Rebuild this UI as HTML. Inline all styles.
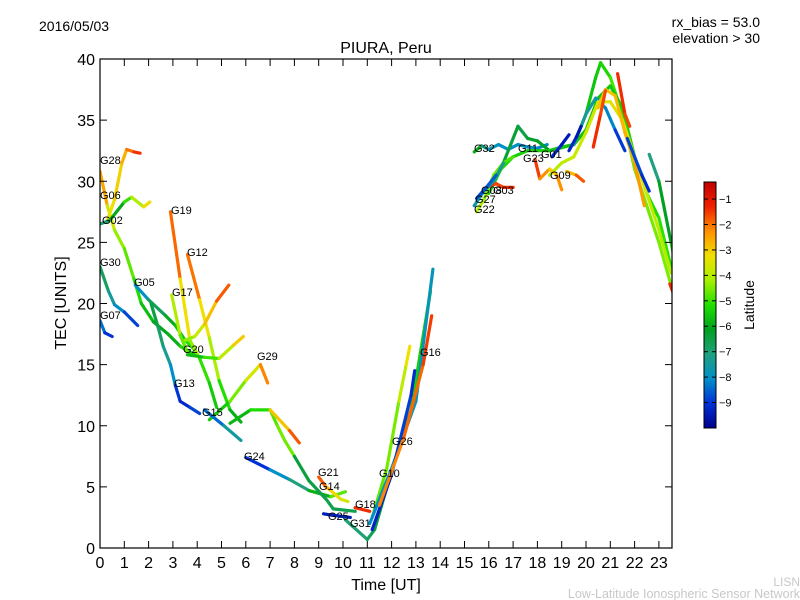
<!DOCTYPE html>
<html><head><meta charset="utf-8"><style>
body{margin:0;background:#fff}
svg{display:block;font-family:"Liberation Sans","DejaVu Sans",sans-serif}
</style></head><body>
<svg id="c" width="800" height="600">
<defs><linearGradient id="cb" x1="0" y1="1" x2="0" y2="0">
<stop offset="0" stop-color="#00008c"/><stop offset="0.1" stop-color="#0030d8"/><stop offset="0.2" stop-color="#0090c8"/><stop offset="0.3" stop-color="#20a080"/><stop offset="0.4" stop-color="#00a020"/><stop offset="0.5" stop-color="#20e000"/><stop offset="0.6" stop-color="#a8f000"/><stop offset="0.7" stop-color="#f0e000"/><stop offset="0.8" stop-color="#ff9000"/><stop offset="0.9" stop-color="#f02000"/><stop offset="1" stop-color="#c00000"/>
</linearGradient><clipPath id="pc"><rect x="100" y="59" width="572" height="489"/></clipPath></defs>
<text x="39" y="31" font-size="14">2016/05/03</text>
<text x="760" y="27" font-size="14" text-anchor="end">rx_bias = 53.0</text>
<text x="760" y="43" font-size="14" text-anchor="end">elevation &gt; 30</text>
<text x="386" y="53" font-size="16" text-anchor="middle">PIURA, Peru</text>
<text x="386" y="590" font-size="16" text-anchor="middle">Time [UT]</text>
<text transform="translate(66,303) rotate(-90)" font-size="16" text-anchor="middle">TEC [UNITS]</text>
<g id="marks" clip-path="url(#pc)"></g>
<g id="labs"></g>
<rect x="100" y="59" width="572" height="489" fill="none" stroke="#000" stroke-width="1.2"/>
<g id="ax"></g>
<rect x="704" y="182" width="12" height="246" fill="url(#cb)" stroke="#000" stroke-width="1"/>
<g id="cbt"></g>
<text transform="translate(754,305) rotate(-90)" font-size="14" text-anchor="middle">Latitude</text>
<text x="800" y="586" font-size="12" fill="#c8c8c8" text-anchor="end">LISN</text>
<text x="800" y="598" font-size="12.5" fill="#c8c8c8" text-anchor="end">Low-Latitude Ionospheric Sensor Network</text>
</svg>
<script>
// track data: each point [time UT, TEC, latitude]
const trackNames=["G28a","G06y","G06g","G30","G07","G05","G02","G13","G19","G12","G17","G12r","G20","G29","G11g","G15","G29o","G24","G21","G14","G25","G18","G31","G10","G16c","G26","G16","G32","GPk","GPk2","GTe","GYe","GOr","GRd1","GRd2","GRd3","G22","G03","G27","G08","G23","G09","G01","G01b","GRt","GBl"];
const tracks=[
[[0,30.8,-1.5],[0.3,28,-3],[0.6,26,-4],[1,24.5,-4.3],[1.4,22,-4.8],[1.7,20,-5.3],[2.2,18.5,-5.8],[2.8,17.5,-6],[3.3,16.5,-5.5],[3.9,15.8,-5]],
[[0.3,26.8,-3.2],[0.6,28.5,-3],[0.9,31.5,-2.6],[1.1,32.6,-2.2],[1.4,32.4,-1.3],[1.65,32.3,-1]],
[[0,26.5,-7.2],[0.4,26.8,-6.5],[1,28.3,-5.2],[1.3,28.7,-4.5],[1.8,27.9,-3.3],[2.05,28.3,-2.6]],
[[0,23,-6.3],[0.35,21,-7],[0.6,19.9,-7.8],[1,19.3,-8.3],[1.55,18.2,-9.3]],
[[0,18.6,-8],[0.2,17.6,-8.6],[0.5,17.3,-9.4]],
[[1.45,21.5,-8.8],[2,20.3,-7.2],[2.7,19,-6],[3.1,18.2,-5.7],[3.5,17,-5.3],[3.9,16.2,-4.7]],
[[2.1,20,-6.2],[2.4,18,-6.5],[2.6,16.5,-7],[2.9,15,-7.5],[3.1,13.3,-8.5],[3.3,12,-9.4]],
[[3.3,12,-9.4],[3.7,11.5,-9],[4.1,11,-8.6]],
[[2.9,27.5,-1],[3.3,22,-2.3],[3.7,17,-3.7],[4.1,15.5,-4.6],[4.5,13.5,-5.2],[4.8,11.5,-5.5]],
[[3.6,24,-1],[4.1,20.3,-2.5],[4.5,17.2,-3.5],[4.9,13.7,-4.5],[5.35,11.3,-5.5],[5.8,10.3,-6]],
[[2.95,20.7,-3.6],[3.3,17.4,-4.2],[3.6,16,-4.8]],
[[3.5,17,-4.5],[3.9,17.3,-3.8],[4.3,18.3,-3.2],[4.8,20.2,-2],[5.3,21.5,-1]],
[[3.6,15.8,-5.8],[4.3,15.6,-5.3],[4.9,15.5,-4.3],[5.5,16.6,-3.2],[5.9,17.3,-2.3]],
[[4.5,10.5,-6],[5.35,12,-4.7],[6,13.7,-4],[6.6,15,-2.8],[6.9,13.5,-1]],
[[5.35,10.2,-6],[6.2,11.3,-5.3],[7,11.3,-4.8],[7.3,10,-4.5],[7.6,8.8,-4.3],[8,7.5,-4.5]],
[[4.3,11.3,-9],[5.1,10,-7.8],[5.8,8.8,-7]],
[[7,11.3,-3.3],[7.8,9.6,-2],[8.2,8.6,-1]],
[[6,7.4,-9.5],[7,6.4,-8.5],[7.8,5.6,-7.5],[8.6,4.7,-6.5],[9.5,4.2,-5],[10.1,4.6,-4.2]],
[[9,5.8,-1],[9.3,5,-2],[9.5,4.7,-2.6],[9.9,4,-3.2],[10.2,3.8,-3.6]],
[[8,7.5,-6.3],[8.6,5.5,-6.3],[9.3,4,-6.5],[9.6,3.2,-6.5],[10.5,3,-6.5]],
[[9.2,2.8,-9.3],[9.5,2.7,-9.5],[10.3,2.5,-9.2]],
[[10.5,3.3,-1],[11.1,3,-1.2]],
[[10.1,2.3,-7],[11,0.7,-6.8],[11.3,1.5,-6.5],[11.9,5.6,-6],[12.8,11.3,-5.5],[13.6,21,-5]],
[[11.2,2.5,-4.5],[11.8,6.5,-4.5],[12.3,12,-4.2],[12.6,15,-3.2],[12.75,16.5,-2.8]],
[[11.1,2,-8],[12,6.5,-8],[13,12,-7.5],[13.7,22.8,-8]],
[[11.2,1.5,-9.5],[12,6,-9],[12.8,12.5,-8.7],[12.95,14.5,-9.5]],
[[11.5,3.5,-2],[12.5,9,-1.8],[13.3,15,-1.5],[13.65,19,-1]],
[[15.4,32.4,-5],[15.7,32.9,-6.5],[16,32.6,-7.5],[16.4,33,-8],[16.8,32.6,-8],[17.2,33,-8],[17.6,32.8,-8],[18,32.7,-8],[18.4,33,-8.2]],
[[16.5,31,-6],[17.2,34.5,-6.5],[17.6,33.5,-6.3],[18,33.3,-6],[18.5,32.5,-6],[19,32.8,-5.6],[19.5,33,-5.5],[20,35.5,-5.5],[20.4,38.5,-5.4],[20.6,39.7,-5.3],[21,38.5,-5],[21.5,35.5,-4.5],[22,31,-4.4],[22.5,28,-4.4],[23,25,-4.3],[23.5,21.5,-4.3]],
[[16,29,-5.3],[16.5,31,-5.2],[17,32,-5.2],[17.6,32.5,-5.3],[18.5,32.5,-5.3],[19.5,33,-5.5],[20,34.2,-5.5],[20.5,36.8,-5.5],[21,37.8,-5.4],[21.5,36,-5.3],[22,32,-5.2],[22.5,29,-5.1],[23,27,-5],[23.5,23,-4.8]],
[[19.5,33,-7.3],[20,35.5,-7.3],[20.4,36.8,-7.4],[20.8,36,-7.7],[21.2,34.2,-8.5],[21.6,32.5,-9.3]],
[[18.5,30.5,-3.8],[19,31.5,-3.8],[19.5,32,-3.6],[20,34,-3.5],[20.5,36.5,-3.4],[21,36.5,-3.3],[21.5,35,-3.2],[22,32,-3.2],[22.5,29,-3.5],[23,26,-3.8],[23.5,22.5,-4]],
[[20.5,36,-2.5],[20.8,37.5,-2.8],[21.2,37,-2.5],[21.6,34,-2.5],[22,31.5,-2.3],[22.4,28,-2]],
[[21.3,38.8,-1],[21.6,35.5,-1.2],[21.8,34.5,-1.5]],
[[20.3,32.8,-1],[20.6,35.5,-1.2],[20.8,37.4,-1.5]],
[[23.45,21.6,-1.2],[23.6,20.8,-1]],
[[15.5,27.5,-3.8],[15.8,28.5,-4],[16.2,30.5,-4.3],[16.6,31.5,-4.6],[17,32,-4.8]],
[[15.9,29.5,-1],[16.3,29.8,-1.4],[16.6,29.5,-1.2],[17,29.5,-1]],
[[15.4,28,-7.5],[15.8,29.2,-7.6],[16.2,30,-7.5],[16.6,31.5,-7]],
[[15.5,28.6,-8.6],[15.9,29.5,-8.8],[16.3,30.5,-8.3]],
[[17.9,31.8,-1],[18.1,30.2,-1.5],[18.5,31,-2.5],[18.8,30.5,-3],[19,29.3,-1]],
[[19.2,30.8,-3],[19.6,30.5,-2],[19.9,30,-1]],
[[18.6,32,-9],[19,33,-9.3],[19.3,33.8,-9.6]],
[[19.3,32.5,-9],[19.6,33.6,-9.4],[19.8,34.5,-9.6]],
[[22.6,32.2,-7.5],[23,30,-6.5],[23.5,25,-5.5],[23.7,23,-5]],
[[21.7,33.5,-8.5],[22.3,30.5,-9],[22.6,29.2,-9.2]]
];
const xTicks=[0,1,2,3,4,5,6,7,8,9,10,11,12,13,14,15,16,17,18,19,20,21,22,23];
const yTicks=[0,5,10,15,20,25,30,35,40];
const cbTicks=[-1,-2,-3,-4,-5,-6,-7,-8,-9];
const labelNames=["G28","G06","G02","G30","G05","G07","G19","G12","G17","G20","G29","G13","G15","G24","G21","G14","G25","G18","G31","G10","G26","G16","G32","G11","G23","G01","G09","G08","G03","G27","G22"];
const labelX=[100,100,102,100,134,100,171,187,172,183,257,174,202,244,318,319,328,355,350,379,392,420,474,518,523,541,550,481,493,475,474];
const labelY=[164,199,224,266,286,319,214,256,296,353,360,387,416,460,476,490,520,508,527,477,445,356,152,152,162,158,179,194,194,203,213];

const X=t=>100+t*24.3, Y=v=>548-v*12.225, CB=l=>182+(-0.33-l)/(9.67)*246;
const stops=[[-10,[0,0,140]],[-9,[0,48,216]],[-8,[0,144,200]],[-7,[32,160,128]],[-6,[0,160,32]],[-5,[32,224,0]],[-4,[168,240,0]],[-3,[240,224,0]],[-2,[255,144,0]],[-1,[240,32,0]],[0,[192,0,0]]];
function col(l){for(let i=0;i<stops.length-1;i++){const a=stops[i],b=stops[i+1];if(l<=b[0]||i==stops.length-2){const f=Math.max(0,Math.min(1,(l-a[0])/(b[0]-a[0])));return 'rgb('+a[1].map((c,k)=>Math.round(c+(b[1][k]-c)*f)).join(',')+')';}}}
const NS='http://www.w3.org/2000/svg';
function mk(tag,at,par){const e=document.createElementNS(NS,tag);for(const k in at)e.setAttribute(k,at[k]);par.appendChild(e);return e;}
const marks=document.getElementById('marks');
tracks.forEach((tr,ti)=>{
 const g=mk('g',{},marks);
 
 
 for(let i=0;i<tr.length-1;i++){
  const a=tr[i],b=tr[i+1];
  const s=mk('line',{x1:X(a[0]),y1:Y(a[1]),x2:X(b[0]),y2:Y(b[1]),stroke:col((a[2]+b[2])/2),'stroke-width':3.2,'stroke-linecap':'round'},g);
  
  
 }
});
const labs=document.getElementById('labs');
labelNames.forEach((n,i)=>{const t=mk('text',{x:labelX[i],y:labelY[i],'font-size':11},labs);t.textContent=n;
 
 });
const ax=document.getElementById('ax');
xTicks.forEach(v=>{const x=X(v);
 const t1=mk('line',{x1:x,y1:548,x2:x,y2:541,stroke:'#000'},ax);
 
 
 mk('line',{x1:x,y1:59,x2:x,y2:66,stroke:'#000'},ax);
 const t=mk('text',{x:x,y:568,'font-size':16,'text-anchor':'middle'},ax);t.textContent=v;
 
 });
yTicks.forEach(v=>{const y=Y(v);
 const t1=mk('line',{x1:100,y1:y,x2:107,y2:y,stroke:'#000'},ax);
 
 
 mk('line',{x1:672,y1:y,x2:665,y2:y,stroke:'#000'},ax);
 const t=mk('text',{x:95,y:y+6,'font-size':16,'text-anchor':'end'},ax);t.textContent=v;
 
 });
const cbt=document.getElementById('cbt');
cbTicks.forEach(v=>{const y=CB(v);
 mk('line',{x1:704,y1:y,x2:708,y2:y,stroke:'#000'},cbt);
 mk('line',{x1:712,y1:y,x2:716,y2:y,stroke:'#000'},cbt);
 const t=mk('text',{x:719,y:y+4,'font-size':11},cbt);t.textContent='\u2212'+(-v);
 
 });
</script>
</body></html>
